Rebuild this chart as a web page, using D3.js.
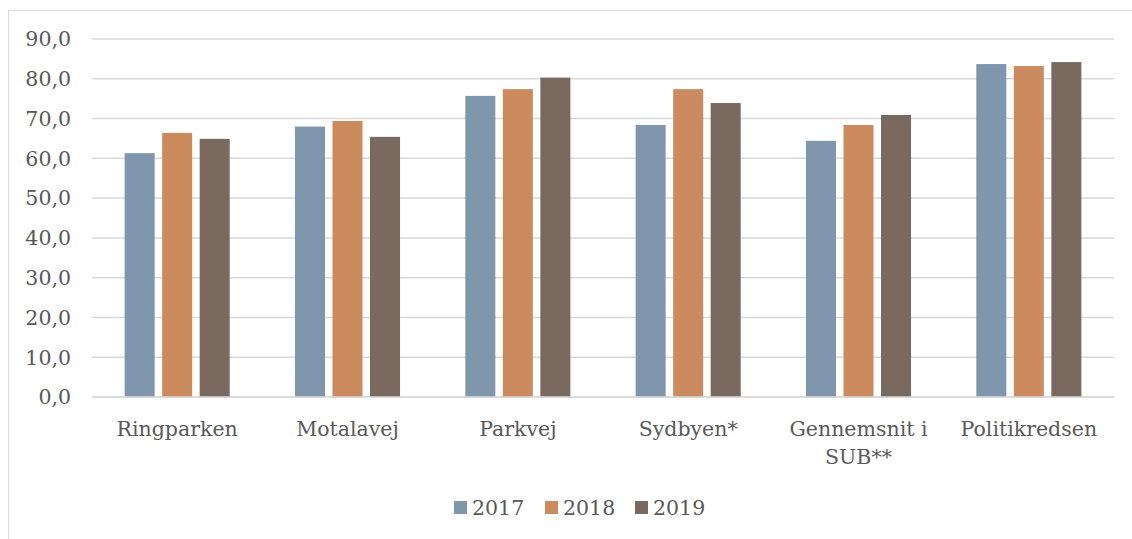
<!DOCTYPE html>
<html>
<head>
<meta charset="utf-8">
<script src="https://cdn.jsdelivr.net/npm/d3@7"></script>
<style>
  body { margin: 0; background: #fff; }
  svg { font-family: "DejaVu Serif", "Liberation Serif", serif; }
</style>
</head>
<body>
<svg width="1132" height="539"></svg>
<script>
let categories = ['Ringparken', 'Motalavej', 'Parkvej', 'Sydbyen*', 'Gennemsnit i|SUB**', 'Politikredsen'];
let years = ['2017', '2018', '2019'];
let values2017 = [61.3, 68.0, 75.7, 68.4, 64.4, 83.7];
let values2018 = [66.4, 69.4, 77.4, 77.4, 68.4, 83.2];
let values2019 = [64.9, 65.4, 80.3, 73.9, 70.9, 84.2];
let yTicks = [0, 10, 20, 30, 40, 50, 60, 70, 80, 90];
let colors = ['#7f96ad', '#cc8b5e', '#7a695e'];

let series = [values2017, values2018, values2019];

let svg = d3.select('svg');
let fontSize = 20.5;

// chart frame
svg.append('rect')
  .attr('x', 8.5).attr('y', 10.5)
  .attr('width', 1140).attr('height', 560)
  .attr('fill', 'none')
  .attr('stroke', '#d9d9d9');

let plotLeft = 92, plotRight = 1114, plotTop = 39, plotBottom = 397;

let x = d3.scaleBand()
  .domain(categories)
  .range([plotLeft, plotRight]);

let inner = d3.scaleBand()
  .domain(years)
  .range([0, x.bandwidth()])
  .paddingInner(0.2)
  .paddingOuter(0.87);

let y = d3.scaleLinear()
  .domain([0, 90])
  .range([plotBottom, plotTop]);

// gridlines
svg.append('g')
  .selectAll('line')
  .data(yTicks)
  .join('line')
    .attr('x1', plotLeft).attr('x2', plotRight)
    .attr('y1', d => y(d)).attr('y2', d => y(d))
    .attr('stroke', '#d9d9d9')
    .attr('stroke-width', 1.5);

// y labels
svg.append('g')
  .selectAll('text')
  .data(yTicks)
  .join('text')
    .attr('x', 71)
    .attr('y', d => y(d))
    .attr('dy', '0.36em')
    .attr('text-anchor', 'end')
    .attr('font-size', fontSize)
    .attr('fill', '#595959')
    .text(d => d3.format('.1f')(d).replace('.', ','));

// bars
years.forEach((yr, i) => {
  svg.append('g')
    .selectAll('rect')
    .data(series[i])
    .join('rect')
      .attr('x', (d, j) => x(categories[j]) + inner(yr))
      .attr('y', d => y(d))
      .attr('width', inner.bandwidth())
      .attr('height', d => y(0) - y(d))
      .attr('fill', colors[i]);
});

// x axis line
svg.append('line')
  .attr('x1', plotLeft).attr('x2', plotRight)
  .attr('y1', plotBottom).attr('y2', plotBottom)
  .attr('stroke', '#d9d9d9')
  .attr('stroke-width', 1.5);

// category labels
let catLabels = svg.append('g')
  .selectAll('text')
  .data(categories)
  .join('text')
    .attr('x', d => x(d) + x.bandwidth() / 2)
    .attr('y', 436)
    .attr('text-anchor', 'middle')
    .attr('font-size', fontSize)
    .attr('fill', '#595959');

catLabels.selectAll('tspan')
  .data(d => d.split('|').map(t => ({ t, c: d })))
  .join('tspan')
    .attr('x', d => x(d.c) + x.bandwidth() / 2)
    .attr('dy', (d, i) => i === 0 ? 0 : 28)
    .text(d => d.t);

// legend
let legend = svg.append('g');
let legendX = [454, 545, 635];
years.forEach((yr, i) => {
  legend.append('rect')
    .attr('x', legendX[i]).attr('y', 501)
    .attr('width', 13).attr('height', 13)
    .attr('fill', colors[i]);
  legend.append('text')
    .attr('x', legendX[i] + 18).attr('y', 515)
    .attr('font-size', fontSize)
    .attr('fill', '#595959')
    .text(yr);
});
</script>
</body>
</html>
